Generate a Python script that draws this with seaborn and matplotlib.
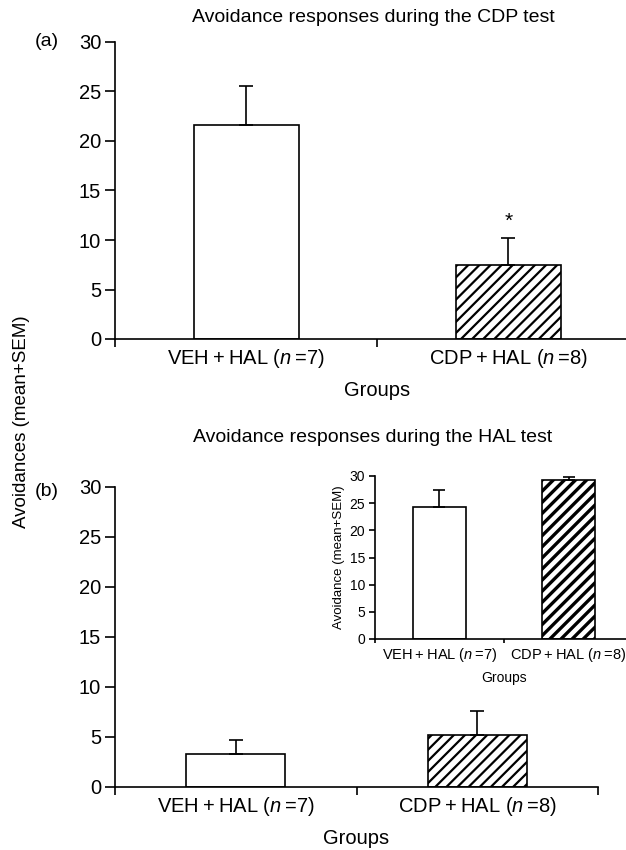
import matplotlib
matplotlib.use("Agg")
import matplotlib.pyplot as plt
import seaborn as sns

# data
groups = ['VEH\u2009+\u2009HAL ($\\mathit{n}$\u2009=7)', 'CDP\u2009+\u2009HAL ($\\mathit{n}$\u2009=8)']
cdp_means = [21.6, 7.5]
cdp_sem = [4.0, 2.7]
hal_means = [3.3, 5.2]
hal_sem = [1.4, 2.4]
inset_means = [24.3, 29.2]
inset_sem = [3.1, 0.6]
y_ticks = [0, 5, 10, 15, 20, 25, 30]

sns.set_style("ticks")
plt.rcParams['font.family'] = ['Liberation Sans', 'DejaVu Sans']
plt.rcParams['mathtext.fontset'] = 'custom'
plt.rcParams['mathtext.rm'] = 'Liberation Sans'
plt.rcParams['mathtext.it'] = 'Liberation Sans:italic'
for k in ['text.color', 'axes.labelcolor', 'xtick.color', 'ytick.color', 'axes.edgecolor']:
    plt.rcParams[k] = 'black'

W, H = 626, 850
fig = plt.figure(figsize=(W / 100, H / 100), dpi=100)


def panel(rect, means, sem, fs, width, capsize, ticklen, hlw):
    ax = fig.add_axes(rect)
    sns.barplot(x=groups, y=means, ax=ax, color='white', edgecolor='black',
                linewidth=1.2, width=width, saturation=1)
    ax.patches[1].set_hatch('///')
    ax.patches[1].set_hatch_linewidth(hlw)
    ax.errorbar([0, 1], means, yerr=[[0, 0], sem], fmt='none', ecolor='black',
                elinewidth=1.2, capsize=capsize, capthick=1.2)
    ax.set_xlim(-0.5, 1.5)
    ax.set_ylim(0, 30)
    ax.set_yticks(y_ticks)
    ax.tick_params(axis='y', labelsize=fs, length=ticklen, width=1.2, pad=3)
    ax.set_xticks([-0.5, 0.5, 1.5], minor=True)
    ax.tick_params(axis='x', which='major', length=0, labelsize=fs, pad=6)
    ax.tick_params(axis='x', which='minor', length=ticklen * 0.8, width=1.2)
    ax.set_xlabel('Groups', fontsize=fs, labelpad=8)
    ax.set_ylabel('')
    for s in ['top', 'right']:
        ax.spines[s].set_visible(False)
    for s in ['left', 'bottom']:
        ax.spines[s].set_linewidth(1.2)
    ax.set_facecolor('none')
    return ax


ax1 = panel([115 / W, 1 - 339 / H, 524.5 / W, 297 / H], cdp_means, cdp_sem,
            14.5, 0.4, 5, 7, 1.6)
ax1.text(1, cdp_means[1] + cdp_sem[1] + 0.7, '*', ha='center', va='bottom', fontsize=15)

ax2 = panel([115 / W, 1 - 787 / H, 483 / W, 300 / H], hal_means, hal_sem,
            14.5, 0.41, 5, 7, 1.6)

ax3 = panel([375 / W, 1 - 639 / H, 258 / W, 163 / H], inset_means, inset_sem,
            10, 0.41, 4, 4, 2.4)
ax3.tick_params(axis='x', which='major', labelsize=10.5, pad=5)
ax3.set_xlabel('Groups', fontsize=10, labelpad=5)
ax3.set_ylabel('Avoidance (mean+SEM)', fontsize=9.5, labelpad=3)

fig.text(373 / W, 1 - 18 / H, 'Avoidance responses during the CDP test',
         ha='center', va='center', fontsize=14)
fig.text(373 / W, 1 - 437 / H, 'Avoidance responses during the HAL test',
         ha='center', va='center', fontsize=14)
fig.text(35 / W, 1 - 42 / H, '(a)', ha='left', va='center', fontsize=14)
fig.text(35 / W, 1 - 492 / H, '(b)', ha='left', va='center', fontsize=14)
fig.text(22 / W, 1 - 422 / H, 'Avoidances (mean+SEM)', rotation=90,
         ha='center', va='center', fontsize=13.5)

fig.savefig('out.png', dpi=100, facecolor='white')
